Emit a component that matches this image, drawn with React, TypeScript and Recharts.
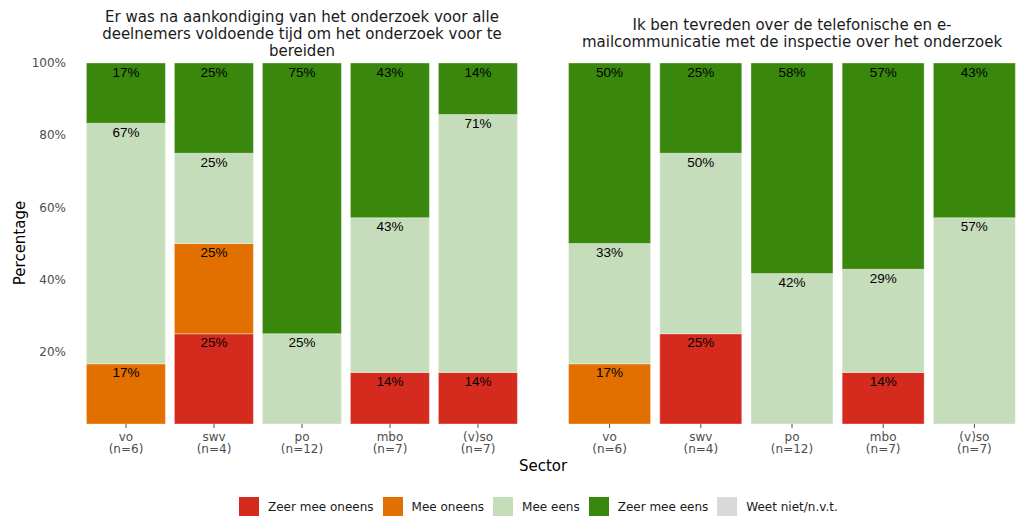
import React from 'react';
import { BarChart, Bar, XAxis, YAxis, LabelList } from 'recharts';

const sectors = ['vo', 'swv', 'po', 'mbo', '(v)so'];
const counts = ['(n=6)', '(n=4)', '(n=12)', '(n=7)', '(n=7)'];
const seriesKeys = ['zeerOneens', 'oneens', 'eens', 'zeerEens', 'weetNiet'];
const seriesNames = ['Zeer mee oneens', 'Mee oneens', 'Mee eens', 'Zeer mee eens', 'Weet niet/n.v.t.'];
const seriesColors = ['#d52b1e', '#e17000', '#c5ddba', '#39870c', '#d9d9d9'];
const yTicks = [20, 40, 60, 80, 100];

const title1 = ['Er was na aankondiging van het onderzoek voor alle', 'deelnemers voldoende tijd om het onderzoek voor te', 'bereiden'];
const title2 = ['Ik ben tevreden over de telefonische en e-', 'mailcommunicatie met de inspectie over het onderzoek'];

// Panel 1
const p1ZeerOneens = [0, 25, 0, 14.29, 14.29];
const p1Oneens = [16.67, 25, 0, 0, 0];
const p1Eens = [66.66, 25, 25, 42.85, 71.42];
const p1ZeerEens = [16.67, 25, 75, 42.86, 14.29];
const p1WeetNiet = [0, 0, 0, 0, 0];

// Panel 2
const p2ZeerOneens = [0, 25, 0, 14.29, 0];
const p2Oneens = [16.67, 0, 0, 0, 0];
const p2Eens = [33.33, 50, 41.67, 28.57, 57.14];
const p2ZeerEens = [50, 25, 58.33, 57.14, 42.86];
const p2WeetNiet = [0, 0, 0, 0, 0];

const buildData = (cols: number[][]) =>
  sectors.map((s, i) => {
    const row: any = { sector: s };
    seriesKeys.forEach((k, j) => {
      row[k] = cols[j][i];
    });
    return row;
  });

const data1 = buildData([p1ZeerOneens, p1Oneens, p1Eens, p1ZeerEens, p1WeetNiet]);
const data2 = buildData([p2ZeerOneens, p2Oneens, p2Eens, p2ZeerEens, p2WeetNiet]);

const FONT = '"DejaVu Sans", Verdana, sans-serif';

const SectorTick = (props: any) => {
  const { x, y, payload } = props;
  const idx = sectors.indexOf(payload.value);
  return (
    <text x={x} y={y} textAnchor="middle" fill="#4d4d4d" fontSize={12} fontFamily={FONT}>
      <tspan x={x} dy="0.71em">{payload.value}</tspan>
      <tspan x={x} dy="1.0em">{counts[idx]}</tspan>
    </text>
  );
};

const SegLabel = (props: any) => {
  const { x, y, width, value } = props;
  if (!value || value <= 0) return null;
  return (
    <text
      x={x + width / 2}
      y={y + 9}
      textAnchor="middle"
      dominantBaseline="central"
      fill="#000"
      fontSize={13.5}
      fontFamily='"Liberation Sans", Arial, sans-serif'
    >
      {Math.round(value) + '%'}
    </text>
  );
};

const renderBars = () =>
  seriesKeys.map((k, j) => (
    <Bar
      key={k}
      dataKey={k}
      name={seriesNames[j]}
      stackId="a"
      fill={seriesColors[j]}
      stroke="#ffffff"
      strokeOpacity={0.35}
      strokeWidth={1}
      isAnimationActive={false}
    >
      <LabelList dataKey={k} content={SegLabel} />
    </Bar>
  ));

const Title = ({ lines, left, width }: { lines: string[]; left: number; width: number }) => (
  <div
    style={{
      position: 'absolute',
      left,
      width,
      top: 34 - (lines.length * 17) / 2,
      textAlign: 'center',
      fontFamily: FONT,
      fontSize: 15,
      lineHeight: '17px',
      color: '#1a1a1a',
      whiteSpace: 'nowrap',
    }}
  >
    {lines.map((l, i) => (
      <div key={i}>{l}</div>
    ))}
  </div>
);

export default function App() {
  return (
    <div style={{ position: 'absolute', left: 0, top: 0, width: 1020, height: 516, background: '#fff', overflow: 'hidden' }}>
      <Title lines={title1} left={82} width={440} />
      <Title lines={title2} left={564} width={456} />

      <div style={{ position: 'absolute', left: 0, top: 0 }}>
        <BarChart width={530} height={460} data={data1} margin={{ top: 63, right: 8, left: 0, bottom: 0 }} barCategoryGap="5%">
          <YAxis
            width={82}
            domain={[0, 100]}
            ticks={yTicks}
            tickFormatter={(v: number) => v + '%'}
            axisLine={false}
            tickLine={false}
            tickSize={0}
            tickMargin={16}
            tick={{ fill: '#4d4d4d', fontSize: 12, fontFamily: FONT }}
            allowDataOverflow
          />
          <XAxis
            dataKey="sector"
            height={36}
            axisLine={false}
            tickLine={{ stroke: '#4d4d4d' }}
            tickSize={4}
            tickMargin={4}
            tick={<SectorTick />}
            interval={0}
          />
          {renderBars()}
        </BarChart>
      </div>

      <div style={{ position: 'absolute', left: 564, top: 0 }}>
        <BarChart width={456} height={460} data={data2} margin={{ top: 63, right: 0, left: 0, bottom: 0 }} barCategoryGap="5%">
          <YAxis hide domain={[0, 100]} allowDataOverflow />
          <XAxis
            dataKey="sector"
            height={36}
            axisLine={false}
            tickLine={{ stroke: '#4d4d4d' }}
            tickSize={4}
            tickMargin={4}
            tick={<SectorTick />}
            interval={0}
          />
          {renderBars()}
        </BarChart>
      </div>

      <div
        style={{
          position: 'absolute',
          left: 12,
          top: 243,
          transform: 'translate(-50%, -50%) rotate(-90deg)',
          transformOrigin: 'center',
          fontFamily: FONT,
          fontSize: 15,
          color: '#000',
          whiteSpace: 'nowrap',
          marginLeft: 8,
        }}
      >
        Percentage
      </div>

      <div
        style={{
          position: 'absolute',
          left: 543,
          top: 466,
          transform: 'translate(-50%, -50%)',
          fontFamily: FONT,
          fontSize: 15,
          color: '#000',
          whiteSpace: 'nowrap',
        }}
      >
        Sector
      </div>

      <div style={{ position: 'absolute', left: 239, top: 497, display: 'flex', alignItems: 'center', fontFamily: FONT, fontSize: 12, color: '#1a1a1a' }}>
        {seriesNames.map((n, i) => (
          <div key={n} style={{ display: 'flex', alignItems: 'center', marginRight: 9 }}>
            <div style={{ width: 20, height: 20, background: seriesColors[i], marginRight: 9 }} />
            <span style={{ whiteSpace: 'nowrap' }}>{n}</span>
          </div>
        ))}
      </div>
    </div>
  );
}
